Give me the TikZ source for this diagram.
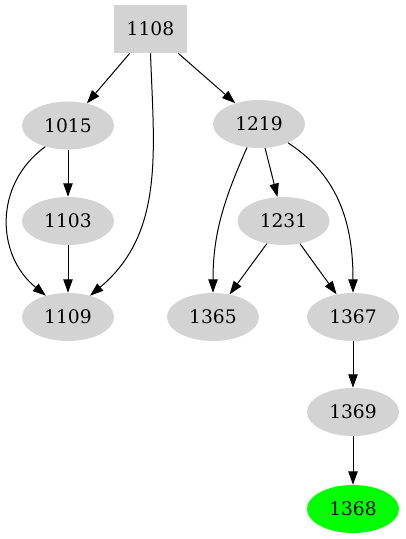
\documentclass[tikz,border=0pt]{standalone}
\usepackage{fontspec}
\setmainfont{DejaVu Serif}
\usetikzlibrary{shapes.geometric,arrows.meta}
\definecolor{nodegray}{HTML}{D3D3D3}
\definecolor{leafgreen}{HTML}{00FF00}
\tikzset{
  vertex/.style={ellipse, fill=nodegray, inner sep=0pt, minimum width=69pt, minimum height=36pt, font=\fontsize{14}{17}\selectfont},
  rootbox/.style={rectangle, fill=nodegray, inner sep=0pt, minimum width=54.75pt, minimum height=36pt, font=\fontsize{14}{17}\selectfont},
  edge/.style={line width=0.75pt, -{Triangle[length=10pt, width=7pt]}}
}
\begin{document}
\begin{tikzpicture}[x=0.75pt, y=-0.75pt]
    \useasboundingbox (0,0) rectangle (405,539);
    \node[rootbox] (n1108) at (150.5,29) {1108};
    \foreach \n/\x/\y in {1015/68/125.5, 1219/259/124, 1103/68/221, 1231/283.5/221, 1109/68/317, 1365/213/317, 1367/353/317, 1369/353/412} { \node[vertex] (n\n) at (\x,\y) {\n}; }
    \node[vertex, fill=leafgreen] (n1368) at (353,509) {1368};
    \foreach \a/\b in {1108/1015, 1108/1219, 1015/1103, 1103/1109, 1219/1231, 1231/1365, 1231/1367, 1367/1369, 1369/1368} { \draw[edge] (n\a) -- (n\b); }
    \draw[edge] (n1108.south) to[out=-88, in=40] (n1109.44);
    \draw[edge] (n1015.-137) to[out=-144, in=141, looseness=1.1] (n1109.136);
    \draw[edge] (n1219.-117) to[out=-114, in=90] (n1365.north);
    \draw[edge] (n1219.-33) to[out=-33, in=90] (n1367.north);
  \end{tikzpicture}
\end{document}
